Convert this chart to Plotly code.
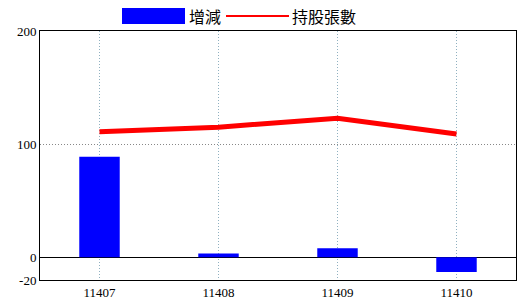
import plotly.graph_objects as go

categories = ["11407", "11408", "11409", "11410"]
change = [89, 3.5, 8, -13]
holdings = [111, 115, 123, 109]
y_ticks = [-20, 0, 100, 200]
y_tick_labels = ["-20", "0", "100", "200"]

fig = go.Figure()
fig.add_trace(go.Bar(x=categories, y=change, name="增減", marker_color="#0000FF",
                     marker_line_width=0, width=0.34, showlegend=False))
fig.add_trace(go.Scatter(x=categories, y=holdings, name="持股張數", mode="lines",
                         line=dict(color="#FF0000", width=5), showlegend=False))

font_main = "Noto Sans CJK TC, DejaVu Sans, sans-serif"
tick_font = dict(family="Liberation Serif, serif", size=13, color="black")

fig.update_layout(
    width=520, height=300,
    margin=dict(l=40, r=4, t=31, b=20),
    plot_bgcolor="white", paper_bgcolor="white",
    font=dict(family=font_main, size=12, color="black"),
    xaxis=dict(type="category", range=[-0.5, 3.5], showgrid=True, automargin=False,
               gridcolor="#8FB0C0", griddash="1px,2px", gridwidth=1,
               showline=True, linecolor="black", linewidth=1, mirror=True,
               ticks="", tickfont=tick_font),
    yaxis=dict(range=[-20, 200], tickvals=y_ticks, ticktext=y_tick_labels,
               showgrid=True, automargin=False,
               gridcolor="#888888", griddash="1px,2px", gridwidth=1,
               zeroline=True, zerolinecolor="black", zerolinewidth=1,
               showline=True, linecolor="black", linewidth=1, mirror=True,
               ticks="", tickfont=tick_font),
)

# legend drawn manually
ph = 249
fig.add_shape(type="rect", xref="paper", yref="paper",
              x0=(122 - 40) / 476, x1=(185 - 40) / 476,
              y0=(280 - 24) / ph, y1=(280 - 8) / ph,
              fillcolor="#0000FF", line_width=0)
fig.add_annotation(xref="paper", yref="paper", x=(187 - 40) / 476, y=(280 - 16) / ph,
                   text="增減", showarrow=False, xanchor="left", yanchor="middle",
                   font=dict(size=16))
fig.add_shape(type="line", xref="paper", yref="paper",
              x0=(226 - 40) / 476, x1=(289 - 40) / 476,
              y0=(280 - 16) / ph, y1=(280 - 16) / ph,
              line=dict(color="#FF0000", width=2))
fig.add_annotation(xref="paper", yref="paper", x=(290 - 40) / 476, y=(280 - 16) / ph,
                   text="持股張數", showarrow=False, xanchor="left", yanchor="middle",
                   font=dict(size=16))

fig.write_html("out.html")
